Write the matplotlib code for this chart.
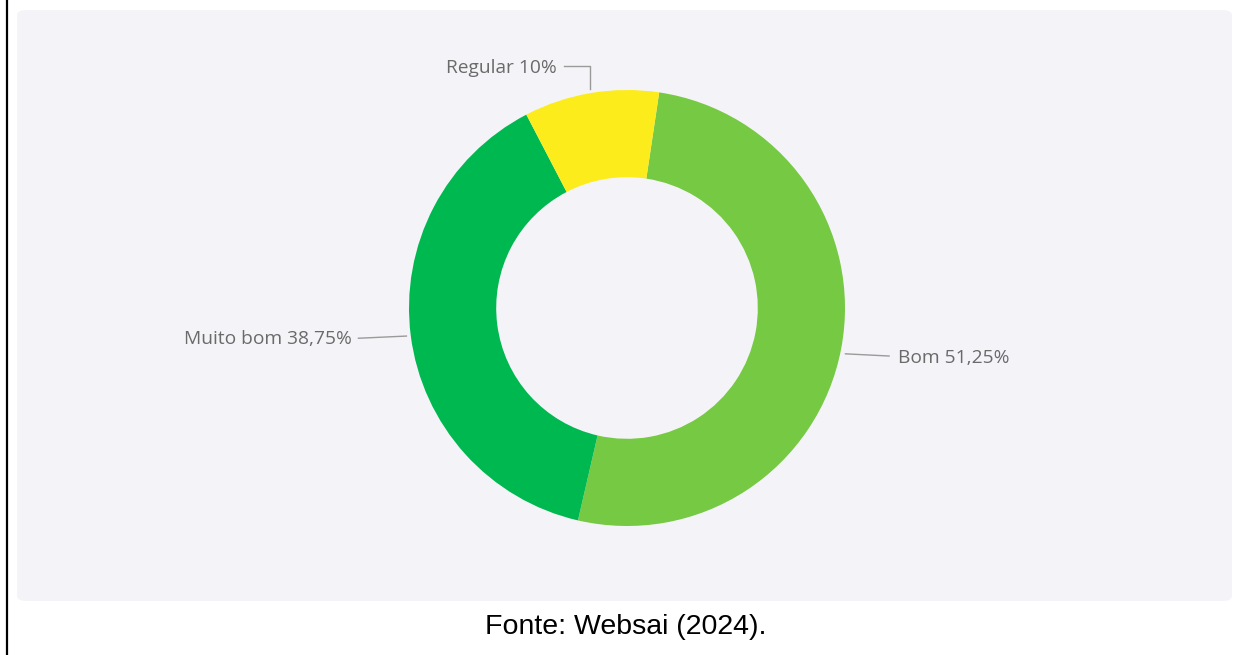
import numpy as np
import matplotlib.pyplot as plt
from matplotlib.patches import FancyBboxPatch
from matplotlib.lines import Line2D

labels = ['Bom', 'Muito bom', 'Regular']
values = [51.25, 38.75, 10.0]
pct_text = ['51,25%', '38,75%', '10%']
colors = ['#76c943', '#00b850', '#fcec1c']
source = 'Fonte: Websai (2024).'

W, H = 1236, 655
fig = plt.figure(figsize=(W / 100, H / 100), dpi=100)
fig.patch.set_facecolor('white')

# light panel behind the visual
panel = FancyBboxPatch((17 / W, 1 - 601 / H), (1232 - 17) / W, (601 - 10) / H,
                       boxstyle='round,pad=0,rounding_size=0.008',
                       transform=fig.transFigure, facecolor='#f4f4f8',
                       edgecolor='none', zorder=-5)
fig.patches.append(panel)

# left frame line
fig.add_artist(Line2D([7 / W, 7 / W], [0, 1], transform=fig.transFigure,
                      color='black', lw=1.6))

# donut axes: centre (627, 308), radius 218 px
cx, cy, R = 627, 308, 218
ax = fig.add_axes([(cx - R) / W, 1 - (cy + R) / H, 2 * R / W, 2 * R / H])
ax.set_zorder(5)
ax.set_facecolor('none')
wedges, _ = ax.pie(values, colors=colors, startangle=81.5, counterclock=False,
                   radius=1.0, wedgeprops=dict(width=0.40, edgecolor='none'))
ax.set_xlim(-1, 1)
ax.set_ylim(-1, 1)
ax.axis('off')

lab_kw = dict(fontsize=13.8, color='#6a6a6a', family=['Open Sans', 'DejaVu Sans'])
line_kw = dict(color='#9a9a9a', lw=1.0, clip_on=False)

for w, lab, pt in zip(wedges, labels, pct_text):
    mid = np.deg2rad((w.theta1 + w.theta2) / 2)
    x0, y0 = 1.02 * np.cos(mid), 1.02 * np.sin(mid)
    text = f'{lab} {pt}'
    if y0 > 0.9:
        # elbow leader: up, then left
        ytop = 1.11
        ax.plot([x0, x0, x0 - 0.12], [y0, ytop, ytop], **line_kw)
        ax.text(x0 - 0.155, ytop - 0.01, text, ha='right', va='center', **lab_kw)
    elif x0 < 0:
        ax.plot([x0, x0 - 0.22], [y0, y0 - 0.01], **line_kw)
        ax.text(x0 - 0.25, y0 - 0.015, text, ha='right', va='center', **lab_kw)
    else:
        ax.plot([x0, x0 + 0.2], [y0 - 0.02, y0 - 0.03], **line_kw)
        ax.text(x0 + 0.24, y0 - 0.04, text, ha='left', va='center', **lab_kw)

fig.text(626 / W, 1 - 627 / H, source, ha='center', va='center',
         fontsize=20.5, color='black', family=['Liberation Sans', 'DejaVu Sans'])

fig.savefig('out.png', dpi=100)
